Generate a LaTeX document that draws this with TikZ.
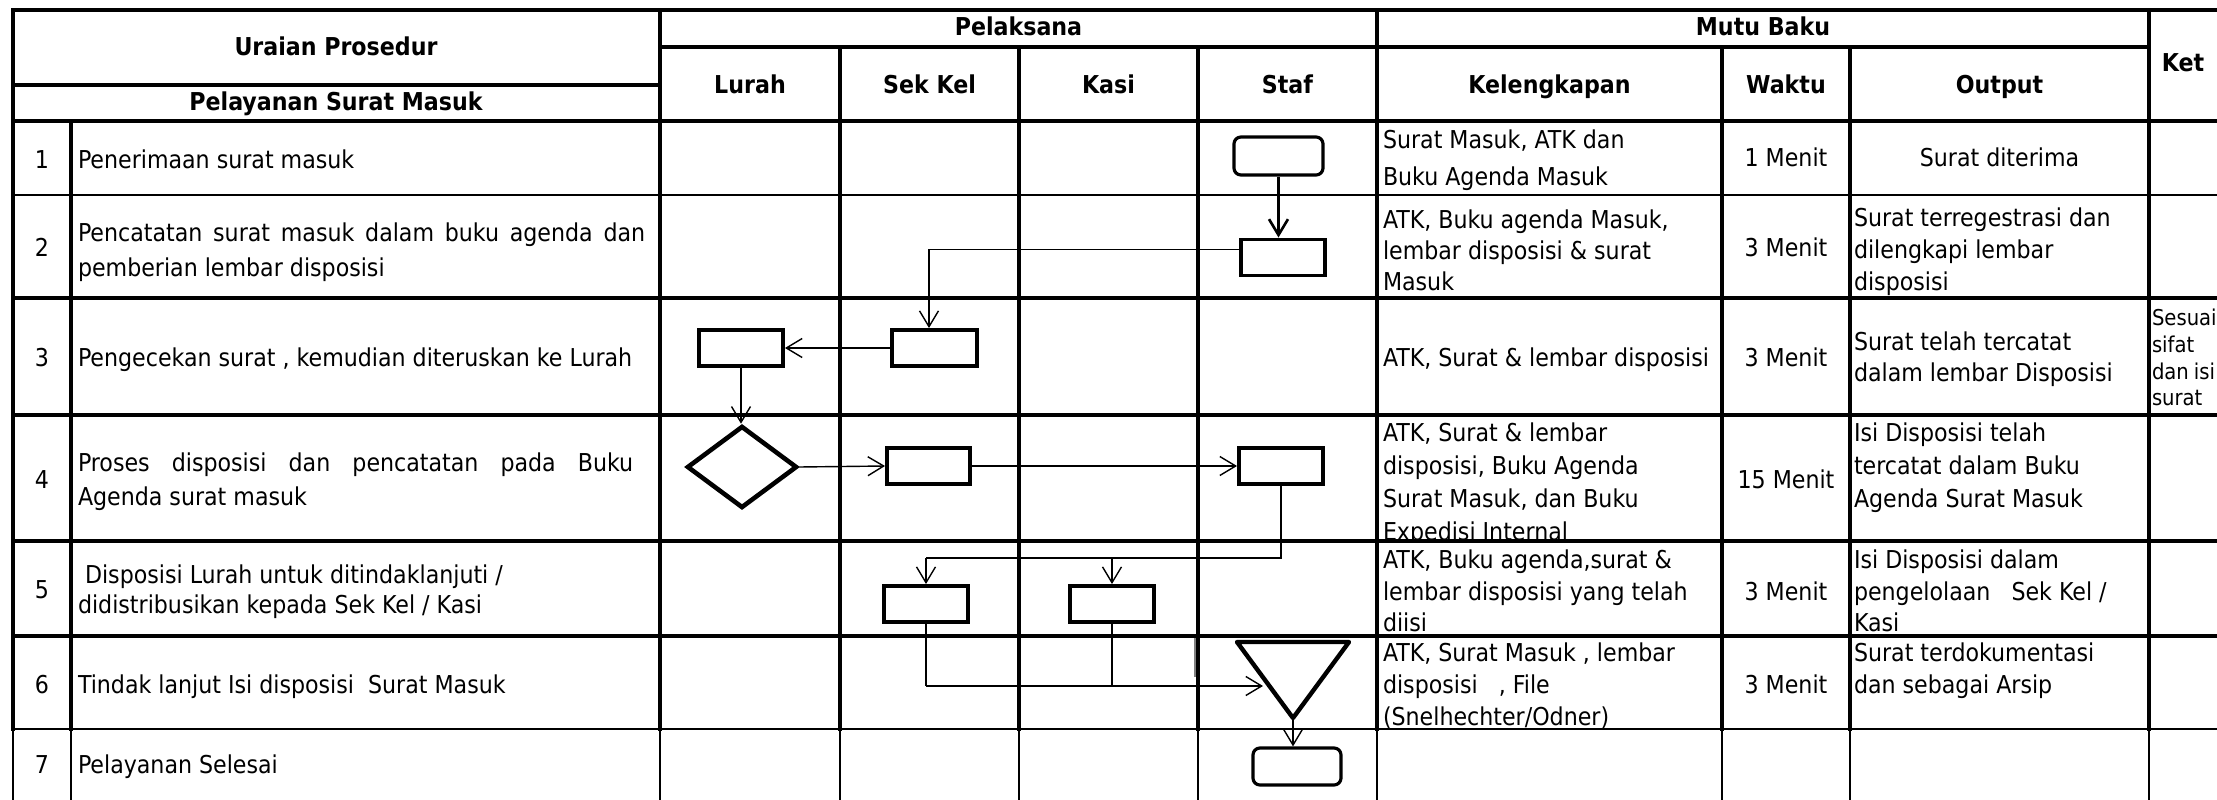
\documentclass[tikz,border=0pt]{standalone}
\usepackage{fontspec}
\setmainfont{DejaVu Sans Condensed}
\usetikzlibrary{arrows.meta,shapes.geometric}

\newcommand\bodyfont{\fontsize{7pt}{9pt}\selectfont}
\newcommand\headfont{\fontsize{7pt}{9pt}\selectfont\bfseries}
\newcommand\ketfont{\fontsize{6.2pt}{7.6pt}\selectfont}

% one text node per printed line: name, x, first y, line step, list of lines
\newcommand\celltext[5]{%
  \foreach \t [count=\i from 0] in {#5}
    \node[txt, anchor=west] (#1-\i) at (#2, #3+\i*#4) {\t};}

\begin{document}
\begin{tikzpicture}[x=0.01cm, y=-0.01cm,
  rule/.style={line width=0.95pt, line cap=rect},
  rulethin/.style={line width=0.55pt, line cap=rect},
  rulehair/.style={line width=0.45pt},
  txt/.style={inner sep=0pt, outer sep=0pt, font=\bodyfont, text height=5.1pt, text depth=0pt},
  head/.style={txt, font=\headfont},
  ket/.style={txt, font=\ketfont, text height=4.5pt},
  box/.style={draw, line width=1.1pt, minimum width=0.84cm, minimum height=0.36cm, inner sep=0pt},
  term/.style={draw, line width=0.9pt, rounded corners=0.07cm, minimum width=0.88cm, minimum height=0.37cm, inner sep=0pt},
  decision/.style={draw, diamond, line width=1.3pt, minimum width=1.1cm, minimum height=0.82cm, inner sep=0pt},
  flow/.style={line width=0.4pt},
  arr/.style={flow, -{Straight Barb[length=4.5pt, width=5.4pt]}},
]
\useasboundingbox (0,0) rectangle (2217,800);
\clip (0,0) rectangle (2217,800);

% ---------- header texts ----------
\node[head] (hUraian) at (336,47) {Uraian Prosedur};
\node[head] (hLayanan) at (336,102) {Pelayanan Surat Masuk};
\node[head] (hPelaksana) at (1018.5,27) {Pelaksana};
\node[head] (hMutu) at (1763,27) {Mutu Baku};
\node[head] (hLurah) at (750,85) {Lurah};
\node[head] (hSek) at (929.5,85) {Sek Kel};
\node[head] (hKasi) at (1108.5,85) {Kasi};
\node[head] (hStaf) at (1287.5,85) {Staf};
\node[head] (hKel) at (1549.5,85) {Kelengkapan};
\node[head] (hWaktu) at (1786,85) {Waktu};
\node[head] (hOutput) at (1999.5,85) {Output};
\node[head] (hKet) at (2183,63) {Ket};

% ---------- step numbers ----------
\foreach \n/\y in {1/160, 2/248, 3/358, 4/480, 5/590, 6/685, 7/765}
  \node[txt] (no\n) at (42,\y) {\n};

% ---------- procedure descriptions ----------
\node[txt, anchor=west] (u1) at (78,160) {Penerimaan surat masuk};
\node[txt, anchor=west] (u2a) at (78,233) {\makebox[5.67cm][s]{Pencatatan surat masuk dalam buku agenda dan}};
\node[txt, anchor=west] (u2b) at (78,268) {pemberian lembar disposisi};
\node[txt, anchor=west] (u3) at (78,358) {Pengecekan surat , kemudian diteruskan ke Lurah};
\node[txt, anchor=west] (u4a) at (78,463) {\makebox[5.55cm][s]{Proses disposisi dan pencatatan pada Buku}};
\node[txt, anchor=west] (u4b) at (78,497) {Agenda surat masuk};
\node[txt, anchor=west] (u5a) at (85,575) {Disposisi Lurah untuk ditindaklanjuti /};
\node[txt, anchor=west] (u5b) at (78,605) {didistribusikan kepada Sek Kel / Kasi};
\node[txt, anchor=west] (u6) at (78,685) {Tindak lanjut Isi disposisi\ \ Surat Masuk};
\node[txt, anchor=west] (u7) at (78,765) {Pelayanan Selesai};

% ---------- Kelengkapan ----------
\celltext{k1}{1383}{140}{37}{{Surat Masuk, ATK dan},{Buku Agenda Masuk}}
\celltext{k2}{1383}{220}{31}{{ATK, Buku agenda Masuk,},{lembar disposisi \& surat},{Masuk}}
\celltext{k3}{1383}{358}{0}{{ATK, Surat \& lembar disposisi}}
\begin{scope}
  \clip (1377,415) rectangle (1722,541);
  \celltext{k4}{1383}{433}{33}{{ATK, Surat \& lembar},{disposisi, Buku Agenda},{Surat Masuk, dan Buku},{Expedisi Internal}}
\end{scope}
\begin{scope}
  \clip (1377,541) rectangle (1722,636);
  \celltext{k5}{1383}{560}{31.5}{{ATK, Buku agenda,surat \&},{lembar disposisi yang telah},{diisi}}
\end{scope}
\begin{scope}
  \clip (1377,636) rectangle (1722,729);
  \celltext{k6}{1383}{653}{32}{{ATK, Surat Masuk , lembar},{disposisi\ \ \ , File},{(Snelhechter/Odner)}}
\end{scope}

% ---------- Waktu ----------
\node[txt] (w1) at (1786,158) {1 Menit};
\node[txt] (w2) at (1786,248) {3 Menit};
\node[txt] (w3) at (1786,358) {3 Menit};
\node[txt] (w4) at (1786,480) {15 Menit};
\node[txt] (w5) at (1786,592) {3 Menit};
\node[txt] (w6) at (1786,685) {3 Menit};

% ---------- Output ----------
\node[txt] (o1) at (1999.5,158) {Surat diterima};
\celltext{o2}{1854}{218}{32}{{Surat terregestrasi dan},{dilengkapi lembar},{disposisi}}
\celltext{o3}{1854}{342}{31}{{Surat telah tercatat},{dalam lembar Disposisi}}
\celltext{o4}{1854}{433}{33}{{Isi Disposisi telah},{tercatat dalam Buku},{Agenda Surat Masuk}}
\celltext{o5}{1854}{560}{31.5}{{Isi Disposisi dalam},{pengelolaan\ \ \ Sek Kel /},{Kasi}}
\celltext{o6}{1854}{653}{32}{{Surat terdokumentasi},{dan sebagai Arsip}}

% ---------- Ket ----------
\node[ket, anchor=west] (ket1) at (2152,318) {Sesuai};
\node[ket, anchor=west] (ket2) at (2152,345) {sifat};
\node[ket, anchor=west] (ket3) at (2152,372) {\makebox[0.63cm][s]{dan isi}};
\node[ket, anchor=west] (ket4) at (2152,398) {surat};

% ---------- table rules ----------
\draw[rule] (13,10) -- (2240,10);
\draw[rule] (660,47) -- (2149,47);
\draw[rule] (13,85) -- (660,85);
\draw[rule] (13,121) -- (2240,121);
\draw[rulethin] (13,195) -- (2240,195);
\foreach \y in {298,415,541,636}
  \draw[rule] (13,\y) -- (2240,\y);
\draw[rulehair] (13,729) -- (2240,729);

\draw[rule] (13,10) -- (13,729);
\draw[rule] (71,121) -- (71,729);
\foreach \x in {660,1377,2149}
  \draw[rule] (\x,10) -- (\x,729);
\foreach \x in {840,1019,1198,1722,1850}
  \draw[rule] (\x,47) -- (\x,729);
\foreach \x in {13,71,660,840,1019,1198,1377,1722,1850,2149}
  \draw[rulehair] (\x,729) -- (\x,810);
\draw[line width=0.4pt, gray] (1195,638) -- (1195,677);

% ---------- flow symbols ----------
\node[term, minimum width=0.89cm, minimum height=0.38cm] (start) at (1278.5,156) {};
\node[box] (r2) at (1283,257.5) {};
\node[box] (r3l) at (741,348) {};
\node[box, minimum width=0.85cm] (r3s) at (934.5,348) {};
\node[decision] (dia) at (742,467) {};
\node[box, minimum width=0.83cm] (r4s) at (928.5,466) {};
\node[box] (r4t) at (1281,466) {};
\node[box] (r5s) at (926,604) {};
\node[box] (r5k) at (1112,604) {};
\coordinate (tA) at (1237,642);
\coordinate (tB) at (1349,642);
\coordinate (tC) at (1293,718);
\coordinate (tIn) at (1263,686);
\draw[line width=1.25pt, line join=round] (tA) -- (tB) -- (tC) -- cycle;
\node[term] (end) at (1297,766.5) {};

% ---------- connectors ----------
\draw[arr, line width=0.75pt] (start.south) -- (start.south |- r2.north);
\draw[arr] ([yshift=0.08cm]r2.west) -| ([xshift=-0.055cm]r3s.north);
\draw[arr] (r3s.west) -- (r3l.east);
\draw[arr] (r3l.south) -- (r3l.south |- dia.north);
\draw[arr] (dia.east) -- (r4s.west);
\draw[arr] (r4s.east) -- (r4t.west);
\coordinate (b5) at (926,558);
\draw[flow] (r4t.south) |- (b5);
\draw[arr] (b5) -- (r5s.north);
\draw[arr] (r5k.north |- b5) -- (r5k.north);
\coordinate (b6) at (926,686);
\draw[flow] (r5s.south) -- (b6);
\draw[flow] (r5k.south) -- (r5k.south |- b6);
\draw[arr] (b6) -- (tIn);
\draw[arr] (tC) -- (tC |- end.north);
\end{tikzpicture}
\end{document}
